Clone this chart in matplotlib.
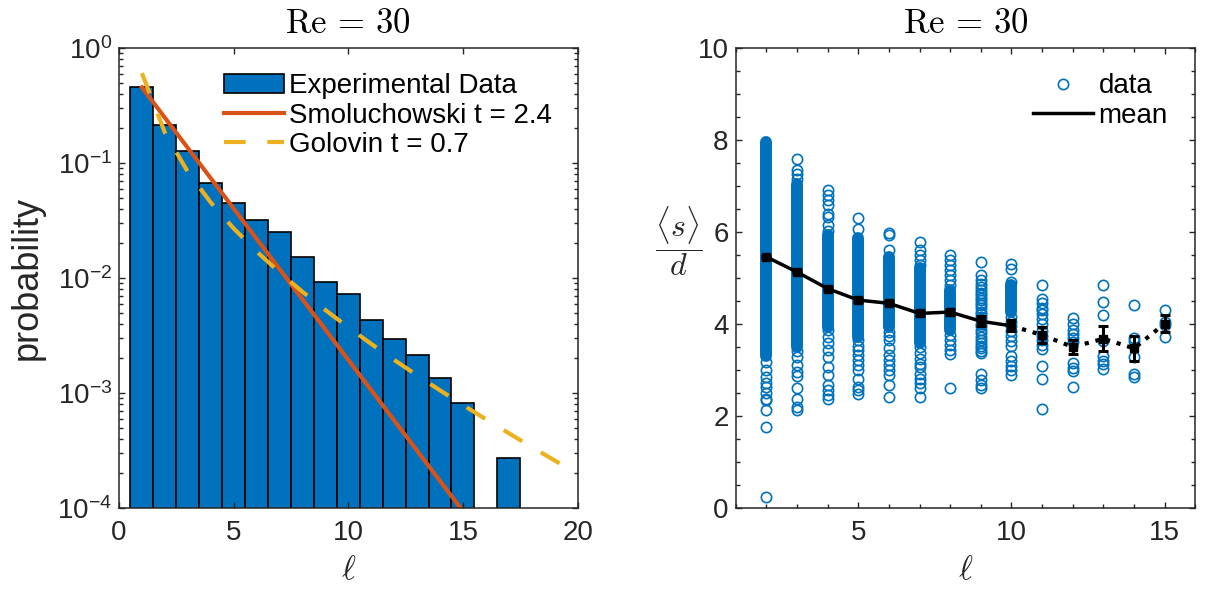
import math
import matplotlib
matplotlib.use('Agg')
import matplotlib.pyplot as plt
from matplotlib.ticker import FixedLocator, MultipleLocator, FuncFormatter, LogLocator, NullFormatter

plt.rcParams['font.family'] = ['Liberation Sans', 'DejaVu Sans']
plt.rcParams['mathtext.fontset'] = 'custom'
plt.rcParams['mathtext.rm'] = 'Liberation Sans'
plt.rcParams['mathtext.it'] = 'Liberation Sans:italic'
plt.rcParams['mathtext.bf'] = 'Liberation Sans:bold'

BLUE = '#0072BD'
RED = '#D95319'
YELLOW = '#EDB120'
GRAY = '#262626'

# --- left panel: cluster size distribution ---
hist_ell = [1, 2, 3, 4, 5, 6, 7, 8, 9, 10, 11, 12, 13, 14, 15, 17]
hist_prob = [0.458, 0.213, 0.126, 0.0666, 0.0449, 0.0319, 0.0253, 0.0153,
             0.00918, 0.00726, 0.00431, 0.00297, 0.00215, 0.00135, 0.000813, 0.000270]

smol_ell = [1, 2, 3, 4, 5, 6, 7, 8, 9, 10, 11, 12, 13, 14, 15]
smol_prob = [0.4545, 0.2479, 0.1352, 0.0738, 0.0402, 0.0219, 0.01197, 0.00653,
             0.00356, 0.00194, 0.00106, 0.000578, 0.000315, 0.000172, 0.0000938]

golo_ell = [1, 2, 3, 4, 5, 6, 7, 8, 9, 10, 11, 12, 13, 14, 15, 16, 17, 18, 19, 20]
golo_prob = [0.6045, 0.1839, 0.0839, 0.04542, 0.0270, 0.01703, 0.0112, 0.007596,
             0.005269, 0.003725, 0.002674, 0.001941, 0.001425, 0.001055, 0.000787,
             0.000591, 0.000447, 0.000339, 0.000259, 0.000198]

# --- right panel: mean spacing per cluster size ---
# ranges where the circles overlap into a solid column
band_ell = [2, 3, 4, 5, 6, 7, 8, 10]
band_lo = [3.30, 3.50, 3.94, 3.72, 3.94, 3.58, 3.87, 4.26]
band_hi = [7.96, 7.05, 5.93, 5.86, 5.46, 5.21, 4.75, 4.85]

# individual circles outside the solid ranges
s2 = [3.17, 2.99, 2.85, 2.71, 2.62, 2.49, 2.38, 2.34, 2.12, 1.76, 0.24]
s3 = [7.59, 7.35, 7.27, 7.15, 3.42, 3.28, 3.10, 2.96, 2.86, 2.60, 2.38, 2.20, 2.14]
s4 = [6.92, 6.80, 6.69, 6.58, 6.40, 6.33, 6.15, 6.02, 3.87, 3.72, 3.58, 3.43, 3.28,
      3.07, 2.89, 2.67, 2.56, 2.45, 2.38]
s5 = [6.31, 6.06, 3.65, 3.53, 3.43, 3.32, 3.21, 3.10, 3.00, 2.81, 2.63, 2.56, 2.47]
s6 = [5.98, 5.93, 5.61, 3.83, 3.74, 3.65, 3.47, 3.32, 3.21, 3.10, 3.00, 2.89, 2.67, 2.41]
s7 = [5.79, 5.61, 5.50, 5.39, 5.28, 3.50, 3.36, 3.25, 3.14, 3.07, 2.92, 2.81, 2.71,
      2.60, 2.41]
s8 = [5.50, 5.39, 5.28, 5.17, 5.06, 4.95, 4.85, 3.76, 3.65, 3.54, 3.43, 3.35, 2.60]
s9 = [5.34, 5.06, 4.95, 4.88, 4.80, 4.74, 4.68, 4.63, 4.57, 4.52, 4.46, 4.41, 4.35, 4.27,
      4.22, 4.16, 4.10, 4.01, 3.95, 3.87, 3.80, 3.72, 3.65, 3.58, 3.52, 3.47, 3.42, 3.36,
      2.92, 2.78, 2.67, 2.60]
s10 = [5.30, 5.20, 4.92, 4.15, 4.05, 3.95, 3.85, 3.75, 3.62, 3.52, 3.30, 3.20, 3.08,
       3.00, 2.90]
s11 = [4.85, 4.55, 4.45, 4.35, 4.30, 4.22, 4.10, 4.00, 3.85, 3.75, 3.65, 3.55, 3.45, 3.08,
       2.80, 2.15]
s12 = [4.12, 4.00, 3.88, 3.78, 3.70, 3.60, 3.15, 3.05, 2.97, 2.63]
s13 = [4.84, 4.47, 4.20, 3.62, 3.30, 3.20, 3.12, 3.02]
s14 = [4.42, 3.70, 3.62, 3.28, 2.92, 2.85]
s15 = [4.30, 4.05, 3.97, 3.72]
spacing = {2: s2, 3: s3, 4: s4, 5: s5, 6: s6, 7: s7, 8: s8, 9: s9, 10: s10,
           11: s11, 12: s12, 13: s13, 14: s14, 15: s15}

mean_ell = [2, 3, 4, 5, 6, 7, 8, 9, 10, 11, 12, 13, 14, 15]
mean_s = [5.46, 5.13, 4.77, 4.52, 4.45, 4.23, 4.26, 4.06, 3.96, 3.76, 3.50, 3.68, 3.47, 4.01]
mean_err = [0.02, 0.03, 0.03, 0.04, 0.04, 0.05, 0.07, 0.11, 0.12, 0.17, 0.15, 0.27, 0.28, 0.18]


def style_axes(ax):
    for sp in ax.spines.values():
        sp.set_linewidth(1.1)
        sp.set_color(GRAY)
    ax.tick_params(which='both', direction='in', top=True, right=True,
                   colors=GRAY, labelsize=20, width=1.0)
    ax.tick_params(which='major', length=4.5)
    ax.tick_params(which='minor', length=2.8)
    ax.tick_params(axis='x', pad=9)
    ax.tick_params(axis='y', pad=5)


fig = plt.figure(figsize=(12.18, 5.92), dpi=100)

# Left panel
ax1 = fig.add_axes([0.0977, 0.1419, 0.3765, 0.777])
ax1.set_yscale('log')
bars = ax1.bar(hist_ell, hist_prob, width=1.0, color=BLUE, edgecolor='k', linewidth=1.2,
               label='Experimental Data')
l_smol, = ax1.plot(smol_ell, smol_prob, color=RED, lw=3, label='Smoluchowski t = 2.4')
l_golo, = ax1.plot(golo_ell, golo_prob, color=YELLOW, lw=3, dashes=(5.2, 5.2),
                   label='Golovin t = 0.7')
ax1.set_xlim(0, 20)
ax1.set_ylim(1e-4, 1)
ax1.xaxis.set_major_locator(FixedLocator([0, 5, 10, 15, 20]))
ax1.yaxis.set_major_locator(FixedLocator([1e-4, 1e-3, 1e-2, 1e-1, 1]))
ax1.yaxis.set_major_formatter(FuncFormatter(lambda v, p: r'$10^{%d}$' % round(math.log10(v))))
ax1.yaxis.set_minor_locator(LogLocator(base=10, subs=[2, 3, 4, 5, 6, 7, 8, 9]))
ax1.yaxis.set_minor_formatter(NullFormatter())
style_axes(ax1)
ax1.set_title(r'$\mathrm{Re}\,=\,30$', fontsize=25, math_fontfamily='cm', pad=11, color='k')
ax1.set_xlabel(r'$\ell$', fontsize=24, math_fontfamily='cm', color=GRAY, labelpad=6)
ax1.set_ylabel('probability', fontsize=26, color=GRAY, labelpad=9)
ax1.legend([bars, l_smol, l_golo],
           ['Experimental Data', 'Smoluchowski t = 2.4', 'Golovin t = 0.7'],
           loc='upper right', bbox_to_anchor=(0.945, 0.945), frameon=False, fontsize=20,
           handlelength=2.15, handletextpad=0.2, labelspacing=0.12, borderpad=0,
           borderaxespad=0)

# Right panel
ax2 = fig.add_axes([0.604, 0.1419, 0.3774, 0.777])
dense = ax2.vlines(band_ell, band_lo, band_hi, colors=BLUE, lw=8.6)
dense.set_capstyle('round')
first = True
for l, vals in spacing.items():
    ax2.plot([l] * len(vals), vals, 'o', mfc='none', mec=BLUE, ms=7.4, mew=1.2,
             label='data' if first else None)
    first = False
ax2.plot(mean_ell[:9], mean_s[:9], '-', color='k', lw=2.5, label='mean')
ax2.plot(mean_ell[8:], mean_s[8:], ':', color='k', lw=3)
ax2.errorbar(mean_ell, mean_s, yerr=mean_err, fmt='s', color='k', ms=6,
             elinewidth=2.2, capsize=3.5, capthick=2.2)
ax2.set_xlim(1, 16)
ax2.set_ylim(0, 10)
ax2.xaxis.set_major_locator(FixedLocator([5, 10, 15]))
ax2.xaxis.set_minor_locator(MultipleLocator(1))
ax2.yaxis.set_major_locator(MultipleLocator(2))
ax2.yaxis.set_minor_locator(MultipleLocator(0.5))
style_axes(ax2)
ax2.set_title(r'$\mathrm{Re}\,=\,30$', fontsize=25, math_fontfamily='cm', pad=11, color='k')
ax2.set_xlabel(r'$\ell$', fontsize=24, math_fontfamily='cm', color=GRAY, labelpad=6)
ax2.set_ylabel(r'$\dfrac{\langle s\rangle}{d}$', fontsize=23, math_fontfamily='cm',
               rotation=0, ha='center', va='center', color=GRAY)
ax2.yaxis.set_label_coords(-0.124, 0.58)
ax2.legend(loc='upper right', bbox_to_anchor=(0.94, 0.945), frameon=False, fontsize=20,
           handlelength=2.15, handletextpad=0.2, labelspacing=0.12, borderpad=0,
           borderaxespad=0, numpoints=1)

fig.savefig('out.png', dpi=100)
